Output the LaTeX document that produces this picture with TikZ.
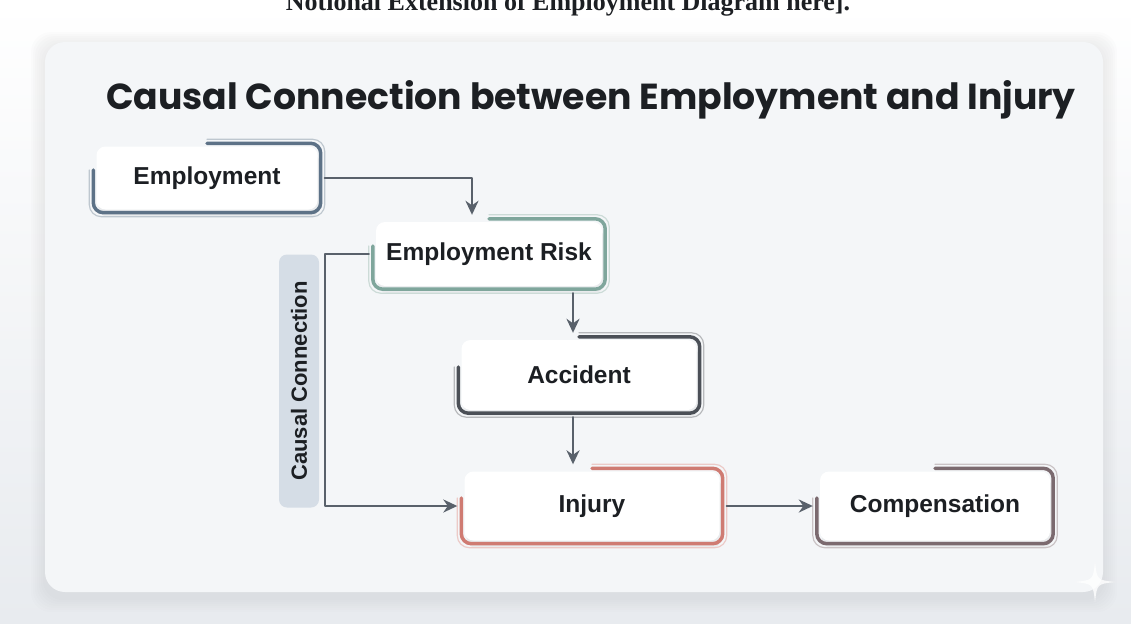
\documentclass[tikz,border=0pt]{standalone}
\usepackage{fontspec}
\setmainfont{Liberation Sans}
\newfontfamily\titlefont{Poppins}
\newfontfamily\notefont{Liberation Serif}
\usetikzlibrary{arrows.meta,shadows,calc}
\definecolor{pagebg}{HTML}{E8EBEF}
\definecolor{cardbg}{HTML}{F4F6F8}
\definecolor{linec}{HTML}{59616B}
\definecolor{inkc}{HTML}{1C1F23}
\definecolor{pillc}{HTML}{D5DDE6}
\definecolor{empc}{HTML}{5D7287}
\definecolor{riskc}{HTML}{7FA69C}
\definecolor{accc}{HTML}{4B5057}
\definecolor{injc}{HTML}{CF7B72}
\definecolor{compc}{HTML}{7B6A6F}
\begin{document}
\begin{tikzpicture}[x=1pt,y=-1pt,line join=round,line cap=round,>={Stealth[length=14pt,width=13pt]},
	card/.style={rounded corners=9pt,fill=white,text=inkc,font=\bfseries\fontsize{24.5}{28}\selectfont,
		drop shadow={opacity=0.09,shadow xshift=2pt,shadow yshift=-7pt}},
	pill/.style={rotate=90,rounded corners=8pt,fill=pillc,text=inkc,minimum width=253,minimum height=40,
		font=\bfseries\fontsize{22}{26}\selectfont},
	conn/.style={->,draw=linec,line width=2.4pt,shorten >=7pt,shorten <=7pt}]
	\def\accent#1#2{%
		\draw[#2!40,line width=1.2pt,rounded corners=12pt] ([shift={(0,-7)}]#1.north)--([shift={(7,-7)}]#1.north east)--([shift={(7,7)}]#1.south east)--([shift={(-7,7)}]#1.south west)--([shift={(-7,-8)}]#1.west);
		\draw[#2,line width=3.5pt,rounded corners=10pt] ([shift={(0,-3)}]#1.north)--([shift={(3,-3)}]#1.north east)--([shift={(3,3)}]#1.south east)--([shift={(-3,3)}]#1.south west)--([shift={(-3,-8)}]#1.west);}
	\clip (0,0) rectangle (1131,623);
	\shade[top color=white,bottom color=pagebg] (0,0) rectangle (1131,623);
	\fill[white] (0,0) rectangle (1131,18);
	\node[anchor=base,text=inkc,font=\notefont\bfseries\fontsize{26}{30}\selectfont] (note) at (568,11) {Notional Extension of Employment Diagram here].};
	% soft card shadow
	\foreach \s in {2,4,...,14}
		\fill[black!70,opacity=0.012,rounded corners=20pt] (45-\s,46-\s) rectangle (1103+\s,598+\s);
	\fill[cardbg,rounded corners=20pt] (45,42) rectangle (1103,592);
	\node[anchor=base,text=inkc,font=\titlefont\bfseries\fontsize{36.2}{42}\selectfont] (title) at (591,110) {Causal Connection between Employment and Injury};
	% boxes
	\node[card,minimum width=221,minimum height=63] (emp) at (207,178) {Employment};
	\node[card,minimum width=226,minimum height=64] (risk) at (489,254) {Employment Risk};
	\node[card,minimum width=235,minimum height=70] (acc) at (579,375) {Accident};
	\node[card,minimum width=255,minimum height=69] (inj) at (592,506) {Injury};
	\node[card,minimum width=230,minimum height=69] (comp) at (935,506) {Compensation};
	\accent{emp}{empc}\accent{risk}{riskc}\accent{acc}{accc}\accent{inj}{injc}\accent{comp}{compc}
	\node[pill] (ccl) at (299,381) {Causal Connection};
	\coordinate (bend) at (325,254);
	% arrows
	\draw[conn] (emp.east) -| ([xshift=-17pt]risk.north);
	\draw[conn] ([xshift=-6pt]acc.north |- risk.south) -- ([xshift=-6pt]acc.north);
	\draw[conn] ([xshift=-6pt]acc.south) -- ([xshift=-6pt]acc.south |- inj.north);
	\draw[conn] (risk.west) -- (bend) |- (inj.west);
	\draw[conn] (inj.east) -- (inj.east -| comp.west);
	\fill[white,opacity=0.8] (1095,562) .. controls (1097,580) .. (1115,582) .. controls (1097,584) .. (1095,602) .. controls (1093,584) .. (1075,582) .. controls (1093,580) .. cycle;
\end{tikzpicture}
\end{document}
